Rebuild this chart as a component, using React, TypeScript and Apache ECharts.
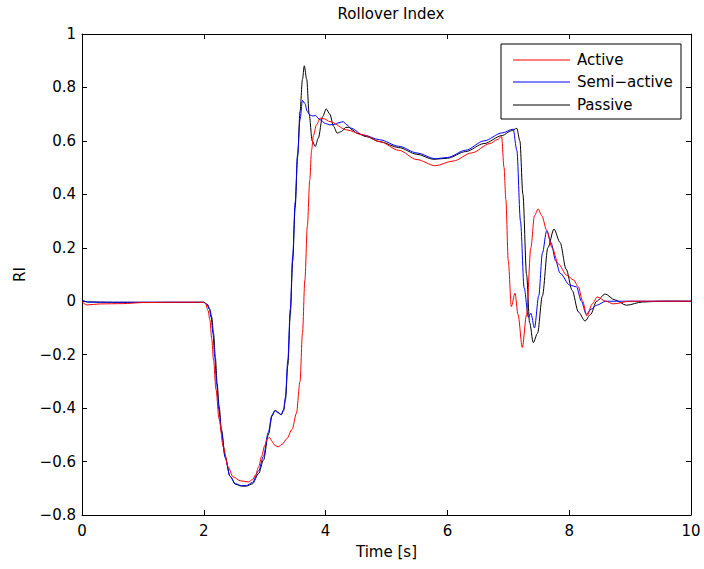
import React, { useEffect, useRef } from "react";
import * as echarts from "echarts";

// Rollover index traces: time [s] and RI value for each suspension type
const activeTime = [0, 0.08, 0.3, 0.67, 1.0, 1.5, 2.0, 2.03, 2.07, 2.1, 2.13, 2.16, 2.2, 2.25, 2.32, 2.4, 2.48, 2.6, 2.73, 2.8, 2.85, 2.9, 2.95, 3.0, 3.04, 3.08, 3.12, 3.17, 3.22, 3.29, 3.36, 3.45, 3.52, 3.58, 3.62, 3.66, 3.7, 3.74, 3.77, 3.8, 3.85, 3.91, 3.98, 4.07, 4.35, 4.62, 4.89, 5.2, 5.5, 5.8, 6.1, 6.4, 6.7, 6.82, 6.89, 6.93, 6.96, 7.0, 7.05, 7.11, 7.16, 7.23, 7.3, 7.37, 7.43, 7.49, 7.55, 7.63, 7.72, 7.82, 7.96, 8.07, 8.15, 8.22, 8.29, 8.38, 8.46, 8.6, 8.72, 9.0, 10];
const activeRI = [-0.002, -0.014, -0.01, -0.009, -0.005, -0.004, -0.004, -0.01, -0.035, -0.07, -0.14, -0.22, -0.33, -0.44, -0.545, -0.62, -0.657, -0.672, -0.676, -0.668, -0.65, -0.62, -0.58, -0.54, -0.515, -0.51, -0.525, -0.54, -0.545, -0.535, -0.515, -0.48, -0.42, -0.3, -0.12, 0.08, 0.28, 0.454, 0.566, 0.62, 0.66, 0.685, 0.682, 0.672, 0.641, 0.622, 0.597, 0.565, 0.53, 0.507, 0.525, 0.555, 0.59, 0.605, 0.616, 0.5, 0.38, 0.15, -0.02, 0.03, -0.05, -0.173, -0.05, 0.2, 0.32, 0.345, 0.32, 0.266, 0.2, 0.14, 0.097, 0.08, 0.054, 0.0, -0.055, -0.01, 0.016, 0.0, -0.01, 0, 0];

const semiTime = [0, 0.1, 0.5, 1.0, 1.5, 2.0, 2.05, 2.09, 2.12, 2.15, 2.18, 2.21, 2.25, 2.29, 2.35, 2.43, 2.52, 2.62, 2.7, 2.8, 2.9, 2.98, 3.06, 3.12, 3.17, 3.22, 3.27, 3.31, 3.34, 3.38, 3.42, 3.46, 3.5, 3.54, 3.58, 3.62, 3.66, 3.7, 3.74, 3.79, 3.83, 3.91, 4.0, 4.07, 4.15, 4.22, 4.29, 4.35, 4.41, 4.62, 4.89, 5.2, 5.5, 5.8, 6.0, 6.3, 6.6, 6.9, 7.08, 7.14, 7.2, 7.26, 7.33, 7.37, 7.43, 7.5, 7.56, 7.63, 7.7, 7.78, 7.85, 8.01, 8.12, 8.2, 8.28, 8.36, 8.45, 8.6, 10];
const semiRI = [0.003, -0.003, -0.004, -0.004, -0.004, -0.004, -0.012, -0.03, -0.06, -0.12, -0.21, -0.31, -0.41, -0.49, -0.585, -0.655, -0.683, -0.69, -0.69, -0.678, -0.635, -0.58, -0.49, -0.425, -0.41, -0.418, -0.425, -0.405, -0.36, -0.22, -0.03, 0.17, 0.37, 0.55, 0.68, 0.751, 0.74, 0.71, 0.697, 0.693, 0.695, 0.679, 0.665, 0.66, 0.662, 0.668, 0.672, 0.66, 0.648, 0.622, 0.604, 0.58, 0.555, 0.533, 0.538, 0.565, 0.6, 0.63, 0.644, 0.565, 0.3, 0.05, -0.06, -0.045, -0.1, 0.02, 0.18, 0.264, 0.22, 0.15, 0.105, 0.06, 0.054, 0.0, -0.049, -0.03, -0.015, 0.0, 0];

const passiveTime = [0, 0.1, 0.5, 1.0, 1.5, 2.0, 2.06, 2.1, 2.13, 2.16, 2.19, 2.22, 2.25, 2.29, 2.35, 2.43, 2.52, 2.62, 2.7, 2.8, 2.9, 2.98, 3.06, 3.12, 3.17, 3.22, 3.27, 3.31, 3.34, 3.38, 3.42, 3.46, 3.5, 3.54, 3.58, 3.62, 3.65, 3.69, 3.73, 3.78, 3.83, 3.88, 3.95, 4.01, 4.07, 4.13, 4.19, 4.26, 4.33, 4.38, 4.45, 4.51, 4.67, 4.89, 5.2, 5.5, 5.77, 6.0, 6.3, 6.6, 6.9, 7.05, 7.14, 7.19, 7.24, 7.3, 7.35, 7.41, 7.48, 7.56, 7.65, 7.75, 7.85, 7.95, 8.05, 8.15, 8.26, 8.35, 8.45, 8.59, 8.75, 8.94, 9.2, 9.5, 10];
const passiveRI = [0.003, -0.003, -0.004, -0.004, -0.004, -0.004, -0.012, -0.03, -0.06, -0.12, -0.21, -0.31, -0.39, -0.48, -0.58, -0.655, -0.685, -0.692, -0.692, -0.683, -0.645, -0.595, -0.5, -0.43, -0.408, -0.415, -0.425, -0.41, -0.37, -0.24, -0.05, 0.15, 0.35, 0.54, 0.71, 0.83, 0.881, 0.83, 0.7, 0.6, 0.579, 0.61, 0.69, 0.72, 0.7, 0.655, 0.629, 0.635, 0.65, 0.651, 0.64, 0.629, 0.616, 0.597, 0.575, 0.55, 0.531, 0.535, 0.56, 0.59, 0.62, 0.638, 0.647, 0.6, 0.4, 0.1, -0.08, -0.155, -0.12, 0.02, 0.2, 0.27, 0.22, 0.12, 0.04, -0.04, -0.074, -0.05, 0.0, 0.027, 0.005, -0.015, -0.003, 0, 0];

const seriesNames = ["Active", "Semi\u2212active", "Passive"];
const seriesColors = ["#ff0000", "#0000ff", "#000000"];

const xTickInterval = 2;
const yTickInterval = 0.2;

const FONT = "'DejaVu Sans', Verdana, sans-serif";
const FONT_SIZE = 15;

const pairs = (t: number[], v: number[]) => t.map((x, i) => [x, v[i]]);

const fmtY = (v: number) => {
  const r = Math.round(v * 10) / 10;
  if (r === 0) return "0";
  return (r < 0 ? "\u2212" : "") + String(Math.abs(r));
};

export default function App() {
  const ref = useRef<HTMLDivElement>(null);

  useEffect(() => {
    document.body.style.margin = "0";
    if (!ref.current) return;
    const chart = echarts.init(ref.current, undefined, { renderer: "svg" });

    const axisCommon = {
      type: "value" as const,
      axisLine: { show: true, onZero: false, lineStyle: { color: "#000", width: 1 } },
      axisTick: { show: true, inside: true, length: 5, lineStyle: { color: "#000" } },
      splitLine: { show: false },
    };

    const xBase = { ...axisCommon, min: 0, max: 10, interval: xTickInterval };
    const yBase = { ...axisCommon, min: -0.8, max: 1, interval: yTickInterval };

    const textStyle = { fontFamily: FONT, fontSize: FONT_SIZE, color: "#000" };
    const legendRows = [60, 82, 105];

    chart.setOption({
      animation: false,
      backgroundColor: "#ffffff",
      title: {
        text: "Rollover Index",
        left: 386,
        top: 1,
        textAlign: "center",
        textStyle: { ...textStyle, fontWeight: "normal" },
      },
      grid: { left: 82, top: 34, right: 13, bottom: 54, containLabel: false },
      xAxis: [
        {
          ...xBase,
          position: "bottom",
          name: "Time [s]",
          nameLocation: "middle",
          nameGap: 29,
          nameTextStyle: textStyle,
          axisLabel: { show: true, margin: 8, ...textStyle },
        },
        { ...xBase, position: "top", axisLabel: { show: false } },
      ],
      yAxis: [
        {
          ...yBase,
          position: "left",
          name: "RI",
          nameLocation: "middle",
          nameGap: 55,
          nameTextStyle: textStyle,
          axisLabel: { show: true, margin: 6, ...textStyle, formatter: fmtY },
        },
        { ...yBase, position: "right", axisLabel: { show: false } },
      ],
      series: [
        [activeTime, activeRI],
        [semiTime, semiRI],
        [passiveTime, passiveRI],
      ].map(([t, v], i) => ({
        type: "line",
        name: seriesNames[i],
        xAxisIndex: 0,
        yAxisIndex: 0,
        data: pairs(t, v),
        showSymbol: false,
        symbol: "none",
        smooth: 0.3,
        smoothMonotone: "x",
        lineStyle: { color: seriesColors[i], width: 1 },
        z: 5 - i,
      })),
      graphic: [
        {
          type: "rect",
          shape: { x: 501, y: 44, width: 180, height: 75 },
          style: { fill: "#fff", stroke: "#000", lineWidth: 1 },
          z: 10,
        },
        ...legendRows.flatMap((y, i) => [
          {
            type: "line",
            shape: { x1: 513, y1: y, x2: 570, y2: y },
            style: { stroke: seriesColors[i], lineWidth: 1 },
            z: 11,
          },
          {
            type: "text",
            x: 577,
            y: y,
            style: {
              text: seriesNames[i],
              fontFamily: FONT,
              fontSize: FONT_SIZE,
              fill: "#000",
              verticalAlign: "middle",
              align: "left",
            },
            z: 11,
          },
        ]),
      ],
    });

    return () => chart.dispose();
  }, []);

  return <div ref={ref} style={{ width: 704, height: 569 }} />;
}
